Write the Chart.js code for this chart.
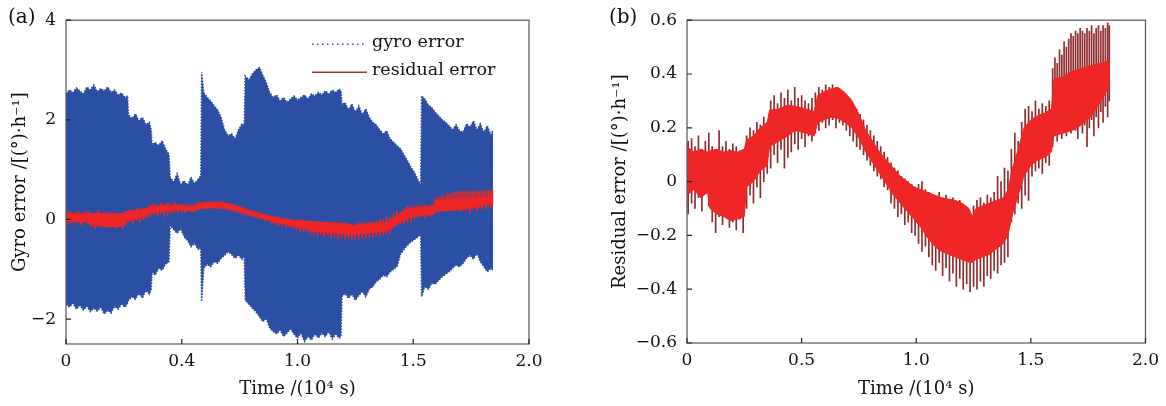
<!DOCTYPE html>
<html>
<head>
<meta charset="utf-8">
<script src="https://cdn.jsdelivr.net/npm/chart.js@4.4.0/dist/chart.umd.min.js"></script>
<style>
  body { margin: 0; background: #fff; width: 1166px; height: 406px; position: relative; overflow: hidden; font-family: 'DejaVu Serif', serif; }
  #wrapA { position: absolute; left: 0; top: 0; width: 560px; height: 406px; }
  #wrapB { position: absolute; left: 570px; top: 0; width: 596px; height: 406px; }
  .tag { position: absolute; top: 4px; font-size: 20px; color: #111; }
</style>
</head>
<body>
<div id="wrapA"><canvas id="chartA" width="560" height="406"></canvas></div>
<div id="wrapB"><canvas id="chartB" width="596" height="406"></canvas></div>
<div class="tag" style="left:8px">(a)</div>
<div class="tag" style="left:609px">(b)</div>
<script>
// gyro error envelope (time in 10^4 s)
const gyroX = [0,0.015,0.03,0.045,0.06,0.075,0.09,0.105,0.12,0.135,0.15,0.165,0.18,0.195,0.21,0.225,0.24,0.255,0.266,0.27,
  0.285,0.3,0.315,0.33,0.345,0.36,0.368,0.372,0.385,0.4,0.415,0.43,0.445,0.45,0.465,0.48,0.495,0.51,0.525,0.54,
  0.555,0.57,0.582,0.586,0.595,0.61,0.625,0.64,0.655,0.67,0.685,0.7,0.715,0.73,0.745,0.76,0.77,0.774,0.79,0.805,
  0.82,0.835,0.85,0.865,0.88,0.895,0.91,0.925,0.94,0.955,0.97,0.985,1,1.015,1.03,1.045,1.06,1.075,1.09,1.105,
  1.12,1.135,1.15,1.165,1.18,1.188,1.192,1.205,1.22,1.235,1.25,1.265,1.28,1.295,1.31,1.325,1.34,1.355,1.37,1.385,
  1.4,1.415,1.43,1.445,1.46,1.475,1.49,1.505,1.52,1.532,1.536,1.55,1.565,1.58,1.595,1.61,1.625,1.64,1.655,1.67,
  1.685,1.7,1.715,1.73,1.745,1.76,1.775,1.79,1.805,1.82,1.835,1.845];
const gyroUpper = [2.52,2.60,2.55,2.64,2.58,2.52,2.66,2.60,2.70,2.56,2.63,2.58,2.66,2.55,2.60,2.50,2.54,2.45,2.48,2.10,
  2.02,2.12,1.98,2.05,1.90,1.95,1.80,1.50,1.55,1.48,1.58,1.42,1.30,0.85,0.75,0.92,0.70,0.78,0.68,0.85,
  0.72,0.80,0.88,2.95,2.55,2.45,2.38,2.28,2.20,2.05,1.80,1.68,1.72,1.62,1.80,1.92,1.88,2.88,2.80,2.92,
  3.00,3.05,2.90,2.75,2.55,2.45,2.50,2.38,2.45,2.35,2.42,2.48,2.40,2.45,2.50,2.42,2.52,2.48,2.55,2.50,
  2.58,2.52,2.60,2.55,2.62,2.58,2.30,2.35,2.20,2.32,2.15,2.28,2.10,2.22,2.05,1.95,1.90,1.80,1.72,1.78,
  1.62,1.55,1.48,1.42,1.30,1.18,1.05,0.95,0.80,0.70,2.48,2.42,2.30,2.25,2.15,2.08,2.00,1.95,1.88,1.80,
  1.90,1.78,1.75,1.92,1.85,1.98,1.80,1.92,1.75,1.88,1.70,1.80];
const gyroLower = [-1.70,-1.76,-1.68,-1.80,-1.72,-1.82,-1.74,-1.85,-1.78,-1.84,-1.76,-1.90,-1.82,-1.88,-1.74,-1.80,-1.70,-1.76,-1.68,-1.62,
  -1.55,-1.60,-1.48,-1.58,-1.42,-1.50,-1.40,-1.05,-1.12,-0.98,-1.02,-0.90,-0.85,-0.12,-0.20,-0.28,-0.18,-0.35,-0.42,-0.55,
  -0.48,-0.60,-0.58,-1.65,-0.98,-0.90,-0.95,-0.85,-0.88,-0.78,-0.72,-0.65,-0.70,-0.78,-0.72,-0.80,-0.75,-1.62,-1.70,-1.78,
  -1.85,-1.95,-2.05,-2.00,-2.18,-2.25,-2.30,-2.22,-2.35,-2.28,-2.20,-2.30,-2.38,-2.28,-2.45,-2.35,-2.42,-2.30,-2.38,-2.28,
  -2.35,-2.25,-2.40,-2.30,-2.38,-2.35,-1.55,-1.48,-1.58,-1.50,-1.62,-1.52,-1.45,-1.55,-1.40,-1.35,-1.25,-1.20,-1.12,-1.15,
  -1.05,-1.00,-0.95,-0.70,-0.60,-0.52,-0.45,-0.40,-0.35,-0.30,-1.55,-1.35,-1.40,-1.28,-1.30,-1.22,-1.15,-1.10,-1.05,-0.98,
  -0.92,-0.95,-0.88,-0.78,-0.72,-0.80,-0.68,-0.85,-0.95,-1.05,-0.98,-1.02];

// residual error: solid core band
const resX = [0,0.03,0.06,0.09,0.1,0.13,0.16,0.19,0.22,0.25,0.26,0.29,0.32,0.35,0.36,0.4,0.44,0.47,0.52,0.555,
  0.57,0.6,0.63,0.66,0.69,0.72,0.75,0.78,0.81,0.84,0.87,0.9,0.93,0.96,0.99,1.02,1.05,1.08,1.11,1.14,
  1.17,1.2,1.23,1.245,1.26,1.29,1.32,1.35,1.38,1.4,1.42,1.445,1.47,1.5,1.53,1.56,1.59,1.6,1.64,1.68,
  1.72,1.76,1.8,1.845];
const resUpper = [0.13,0.11,0.12,0.11,0.115,0.12,0.11,0.115,0.11,0.12,0.155,0.17,0.20,0.22,0.265,0.27,0.285,0.28,0.27,0.26,
  0.32,0.335,0.345,0.35,0.33,0.30,0.25,0.19,0.15,0.11,0.08,0.05,0.02,0.00,-0.02,-0.03,-0.04,-0.05,-0.06,-0.065,
  -0.07,-0.08,-0.10,-0.13,-0.10,-0.09,-0.08,-0.07,-0.06,-0.03,0.05,0.12,0.20,0.23,0.245,0.255,0.27,0.38,0.39,0.41,
  0.42,0.43,0.44,0.45];
const resLower = [-0.05,-0.03,-0.06,-0.04,-0.10,-0.12,-0.13,-0.145,-0.14,-0.13,-0.02,0.00,0.04,0.06,0.13,0.15,0.17,0.19,0.18,0.17,
  0.22,0.23,0.24,0.235,0.22,0.20,0.16,0.11,0.07,0.03,-0.01,-0.05,-0.08,-0.11,-0.14,-0.17,-0.21,-0.24,-0.26,-0.27,
  -0.28,-0.29,-0.30,-0.30,-0.29,-0.28,-0.27,-0.25,-0.23,-0.20,-0.12,-0.05,0.02,0.06,0.08,0.09,0.11,0.17,0.18,0.19,
  0.21,0.24,0.29,0.36];

// residual error: oscillation spikes (low / high ends)
const spikeX = [0.005,0.02,0.035,0.05,0.065,0.08,0.095,0.11,0.125,0.14,0.155,0.17,0.185,0.2,0.215,0.23,0.245,
  0.26,0.275,0.29,0.305,0.32,0.335,0.35,0.365,0.38,0.395,0.41,0.425,0.44,0.455,0.47,0.485,0.5,0.515,0.53,0.545,0.56,
  0.575,0.59,0.605,0.62,0.635,0.65,0.665,0.68,0.695,0.71,0.725,0.74,0.755,0.77,0.785,0.8,0.815,0.83,0.845,0.86,0.875,
  0.89,0.905,0.92,0.935,0.95,0.965,0.98,0.995,1.01,1.025,1.04,1.055,1.07,1.085,1.1,1.115,1.13,1.145,1.16,1.175,1.19,
  1.205,1.22,1.235,1.25,1.265,1.28,1.295,1.31,1.325,1.34,1.355,1.37,1.385,1.4,1.415,1.43,1.445,1.46,1.475,
  1.49,1.505,1.52,1.535,1.55,1.565,1.58,1.595,1.605,1.615,1.625,1.635,1.645,1.655,1.665,1.675,1.685,1.695,1.705,
  1.715,1.725,1.735,1.745,1.755,1.765,1.775,1.785,1.795,1.805,1.815,1.825,1.835,1.842];
const spikeLow = [-0.12,-0.08,-0.10,-0.06,-0.11,-0.04,-0.09,-0.15,-0.19,-0.13,-0.16,-0.12,-0.17,-0.15,-0.18,-0.14,-0.19,
  -0.10,-0.05,-0.08,-0.02,-0.06,0.00,0.03,0.05,0.10,0.07,0.12,0.05,0.09,0.11,0.14,0.12,0.16,0.13,0.17,0.15,0.18,
  0.19,0.22,0.20,0.21,0.23,0.20,0.22,0.21,0.19,0.17,0.15,0.13,0.12,0.10,0.08,0.06,0.04,0.02,0.01,-0.02,-0.03,
  -0.08,-0.10,-0.13,-0.12,-0.16,-0.15,-0.19,-0.20,-0.23,-0.26,-0.24,-0.28,-0.31,-0.33,-0.30,-0.35,-0.32,-0.37,-0.34,-0.39,-0.36,
  -0.40,-0.38,-0.41,-0.39,-0.40,-0.37,-0.39,-0.35,-0.36,-0.33,-0.34,-0.31,-0.30,-0.28,-0.15,-0.12,-0.08,-0.10,-0.05,
  -0.07,0.02,0.04,0.05,0.03,0.07,0.06,0.13,0.17,0.15,0.18,0.16,0.19,0.17,0.20,0.18,0.21,0.19,0.16,
  0.22,0.18,0.21,0.13,0.20,0.23,0.17,0.24,0.20,0.26,0.22,0.28,0.24,0.30];
const spikeHigh = [0.15,0.16,0.13,0.17,0.12,0.15,0.18,0.13,0.12,0.19,0.13,0.15,0.12,0.14,0.13,0.11,0.12,
  0.17,0.20,0.19,0.22,0.21,0.24,0.22,0.30,0.32,0.29,0.33,0.31,0.34,0.30,0.35,0.31,0.32,0.30,0.29,0.31,0.33,
  0.35,0.34,0.36,0.35,0.36,0.35,0.34,0.33,0.32,0.31,0.29,0.27,0.25,0.23,0.21,0.19,0.17,0.15,0.13,0.11,0.09,
  0.07,0.05,0.04,0.02,0.01,0.00,-0.01,-0.02,-0.01,0.00,-0.03,-0.04,-0.05,-0.06,-0.04,-0.06,-0.05,-0.07,-0.06,-0.08,-0.07,
  -0.09,-0.10,-0.12,-0.09,-0.07,-0.06,-0.08,-0.05,-0.06,-0.04,0.02,0.00,0.05,0.04,0.12,0.18,0.15,0.22,0.27,
  0.28,0.26,0.30,0.27,0.29,0.28,0.30,0.42,0.46,0.44,0.49,0.47,0.52,0.50,0.53,0.55,0.54,0.56,0.55,
  0.57,0.56,0.55,0.57,0.56,0.58,0.55,0.57,0.58,0.56,0.58,0.57,0.59,0.58];

// axes
const xTickValues = [0, 0.5, 1, 1.5, 2];
const xTickLabelsA = ['0', '0.4', '1.0', '1.5', '2.0'];
const xTickLabelsB = ['0', '0.5', '1.0', '1.5', '2.0'];
const yTickValuesA = [-2, 0, 2, 4];
const yTickLabelsA = ['\u22122', '0', '2', '4'];
const yTickValuesB = [-0.6, -0.4, -0.2, 0, 0.2, 0.4, 0.6];
const yTickLabelsB = ['\u22120.6', '\u22120.4', '\u22120.2', '0', '0.2', '0.4', '0.6'];

const FONT = "'DejaVu Serif', serif";
const BLUE = '#2b4fa2';
const RED = '#ee2626';
const DARKRED = '#8e2a2e';

function pts(xs, ys) { return xs.map((x, i) => ({ x: x, y: ys[i] })); }
function bars(xs, lo, hi) { return xs.map((x, i) => ({ x: x, y: [lo[i], hi[i]] })); }

// box round the plot, inward ticks on bottom and left
const framePlugin = {
  id: 'frame',
  afterDraw(chart) {
    const { ctx, chartArea: a, scales } = chart;
    ctx.save();
    ctx.strokeStyle = '#555';
    ctx.lineWidth = 1.2;
    ctx.strokeRect(a.left, a.top, a.right - a.left, a.bottom - a.top);
    ctx.strokeStyle = '#222';
    ctx.beginPath();
    scales.x.ticks.forEach(t => {
      const px = scales.x.getPixelForValue(t.value);
      ctx.moveTo(px, a.bottom); ctx.lineTo(px, a.bottom - 5);
    });
    scales.y.ticks.forEach(t => {
      const py = scales.y.getPixelForValue(t.value);
      ctx.moveTo(a.left, py); ctx.lineTo(a.left + 5, py);
    });
    ctx.stroke();
    ctx.restore();
  }
};

// legend inside panel (a)
const legendPlugin = {
  id: 'innerLegend',
  afterDraw(chart, args, opts) {
    if (!opts.items) return;
    const { ctx, chartArea: a } = chart;
    ctx.save();
    ctx.font = '17.5px ' + FONT;
    ctx.fillStyle = '#111';
    ctx.textBaseline = 'middle';
    opts.items.forEach((it, i) => {
      const y = a.top + 22 + i * 28;
      const ds = chart.data.datasets[it.dataset];
      ctx.strokeStyle = it.color;
      ctx.lineWidth = 1.6;
      ctx.setLineDash(it.dash);
      ctx.beginPath();
      ctx.moveTo(a.right - 217, y + 2);
      ctx.lineTo(a.right - 162, y + 2);
      ctx.stroke();
      ctx.setLineDash([]);
      ctx.fillText(ds.label, a.right - 157, y);
    });
    ctx.restore();
  }
};

function makeAxes(o) {
  return {
    x: {
      type: 'linear', min: 0, max: 2, offset: false,
      afterFit: s => { s.height = o.xHeight; },
      afterBuildTicks: s => { s.ticks = xTickValues.map(v => ({ value: v })); },
      grid: { display: false, drawTicks: false },
      border: { display: false },
      ticks: { font: { family: FONT, size: 17 }, color: '#111', padding: 7, maxRotation: 0, autoSkip: false,
        callback: (v, i) => o.xLabels[i] },
      title: { display: true, text: 'Time /(10\u2074 s)', font: { family: FONT, size: 18 }, color: '#111',
        padding: { top: 0, bottom: 6 } }
    },
    y: {
      type: 'linear', min: o.yMin, max: o.yMax,
      afterFit: s => { s.width = o.yWidth; },
      afterBuildTicks: s => { s.ticks = o.yValues.map(v => ({ value: v })); },
      grid: { display: false, drawTicks: false },
      border: { display: false },
      ticks: { font: { family: FONT, size: 17 }, color: '#111', padding: 10, autoSkip: false,
        callback: (v, i) => o.yLabels[i] },
      title: { display: true, text: o.yTitle, font: { family: FONT, size: 18 }, color: '#111',
        padding: { top: o.yTitlePad, bottom: 0 } }
    }
  };
}

function residualSets(spikeColor, coreColor) {
  return [
    { type: 'bar', label: 'spikes', data: bars(spikeX, spikeLow, spikeHigh), backgroundColor: spikeColor,
      barThickness: 1, borderWidth: 0, order: 2 },
    { type: 'line', label: 'residual top', data: pts(resX, resUpper), borderColor: coreColor, borderWidth: 1,
      pointRadius: 0, tension: 0, fill: false, order: 1 },
    { type: 'line', label: 'residual error', data: pts(resX, resLower), borderColor: coreColor, borderWidth: 1,
      pointRadius: 0, tension: 0, fill: '-1', backgroundColor: coreColor, order: 1 }
  ];
}

const common = {
  responsive: false,
  animation: false,
  devicePixelRatio: 1,
  plugins: { legend: { display: false }, tooltip: { enabled: false } }
};

// panel (a)
const gyroSets = [
  { type: 'line', label: 'gyro top', data: pts(gyroX, gyroUpper), borderColor: BLUE, borderWidth: 1.5,
    borderDash: [1.5, 1.5], pointRadius: 0, tension: 0, fill: false, order: 3 },
  { type: 'line', label: 'gyro error', data: pts(gyroX, gyroLower), borderColor: BLUE, borderWidth: 1.5,
    borderDash: [1.5, 1.5], pointRadius: 0, tension: 0, fill: '-1', backgroundColor: BLUE, order: 3 }
];
new Chart(document.getElementById('chartA'), {
  type: 'line',
  data: { datasets: gyroSets.concat(residualSets(RED, RED)) },
  options: Object.assign({}, common, {
    layout: { padding: { top: 16, right: 31, bottom: 0, left: 0 } },
    scales: makeAxes({ xHeight: 62, xLabels: xTickLabelsA, yMin: -2.5, yMax: 4, yWidth: 66,
      yValues: yTickValuesA, yLabels: yTickLabelsA, yTitle: 'Gyro error /[(\u00b0)\u00b7h\u207b\u00b9]', yTitlePad: 10 }),
    plugins: Object.assign({}, common.plugins, {
      innerLegend: { items: [
        { dataset: 1, color: BLUE, dash: [1.5, 3.5] },
        { dataset: 4, color: '#a83232', dash: [] }
      ] }
    })
  }),
  plugins: [framePlugin, legendPlugin]
});

// panel (b)
new Chart(document.getElementById('chartB'), {
  type: 'line',
  data: { datasets: residualSets(DARKRED, RED) },
  options: Object.assign({}, common, {
    layout: { padding: { top: 16, right: 20, bottom: 0, left: 0 } },
    scales: makeAxes({ xHeight: 63, xLabels: xTickLabelsB, yMin: -0.6, yMax: 0.6, yWidth: 117,
      yValues: yTickValuesB, yLabels: yTickLabelsB, yTitle: 'Residual error /[(\u00b0)\u00b7h\u207b\u00b9]', yTitlePad: 40 })
  }),
  plugins: [framePlugin]
});
</script>
</body>
</html>
